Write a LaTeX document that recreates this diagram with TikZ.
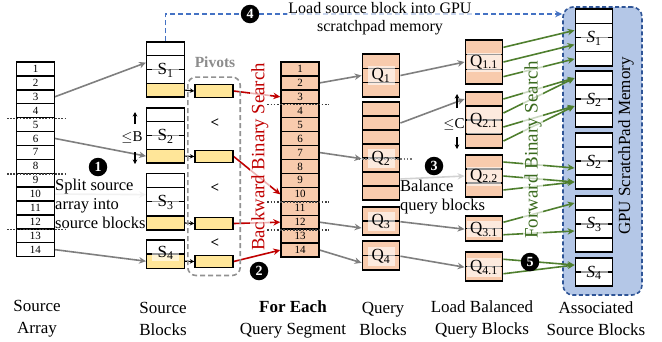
\documentclass[tikz,border=0pt]{standalone}
\usepackage{fontspec}
\setmainfont{Liberation Serif}
\usetikzlibrary{arrows.meta,calc,fit}
\definecolor{peach}{HTML}{F8CBAD}
\definecolor{syellow}{HTML}{FFE699}
\definecolor{memfill}{HTML}{B4C7E7}
\definecolor{memedge}{HTML}{2F5597}
\definecolor{lineblue}{HTML}{4472C4}
\definecolor{fgreen}{HTML}{4F7F2E}
\definecolor{fgreentext}{HTML}{3B6B1F}
\definecolor{bred}{HTML}{C00000}
\definecolor{agray}{HTML}{7F7F7F}
\pgfdeclarelayer{back}
\pgfdeclarelayer{arw}
\pgfdeclarelayer{veil}
\pgfsetlayers{back,arw,veil,main}
\newcommand\fsz[2]{\fontsize{#1}{#2}\selectfont}
\newcommand\mkblock[5]{%
  \foreach \ff [count=\kk] in {#5}{%
    \node[cellbox, fill=\ff, minimum height=#4pt] (#1r\kk) at (#2,{#3+#4*(\kk-0.5)}) {};}}
\newcommand\lessmark{\textbf{<}}
\newcommand\sub[2]{#1\textsubscript{#2}}
\begin{document}
\begin{tikzpicture}[x=1pt,y=-1pt,
  cellbox/.style={draw=black, line width=1.4pt, minimum width=37.5pt, inner sep=0pt, font=\fsz{11}{11}},
  lbl/.style={fill=white, fill opacity=0.6, text opacity=1, inner sep=1pt, minimum width=27pt, minimum height=19pt, font=\fsz{17}{17}},
  arr/.style={line width=1.6pt, -{Stealth[length=7pt,width=6.5pt]}},
  garr/.style={arr, draw=agray},
  lgarr/.style={arr, draw=agray!35},
  grn/.style={arr, draw=fgreen},
  rd/.style={arr, draw=bred},
  karr/.style={line width=1.1pt, -{Stealth[length=4.5pt,width=4.5pt]}},
  num/.style={circle, fill=black, text=white, inner sep=0pt, minimum size=18.5pt, font=\fsz{14}{14}\bfseries},
  veil/.style={fill=white, fill opacity=0.7, text opacity=1, inner sep=1pt},
  sepline/.style={draw=black!75, line width=1.6pt, dash pattern=on 1.6pt off 1.6pt},
  lab/.style={font=\fsz{17}{22}, align=center},
  body/.style={font=\fsz{16.5}{19}, align=left},
  ltmark/.style={font=\fsz{15}{15}}]
\useasboundingbox (0,0) rectangle (662,341);

% ---------- memory box ----------
\begin{pgfonlayer}{back}
\node[draw=memedge, fill=memfill, line width=1.6pt, dash pattern=on 4pt off 2.5pt,
      rounded corners=10pt, minimum width=79pt, minimum height=288pt, inner sep=0pt] (mem) at (602.5,151) {};
\end{pgfonlayer}
\node[rotate=90, font=\fsz{17}{17}] (memtxt) at (626,146) {GPU ScratchPad Memory};

% ---------- source array ----------
\foreach \i in {1,...,14}
  \node[cellbox, minimum height=13.9pt] (sa\i) at (35.5,{62+13.9*(\i-0.5)}) {\i};
\foreach \i in {4,8,12}
  \draw[sepline] ($(sa\i.south west)+(-9,0)$) -- ($(sa\i.south east)+(10,0)$);

% ---------- source blocks ----------
\mkblock{s1}{165.5}{42}{13.75}{white,white,white,syellow}
\mkblock{s2}{165.5}{108}{13.75}{white,white,white,syellow}
\mkblock{s3}{165.5}{173.3}{14.2}{white,white,white,syellow}
\mkblock{s4}{165.5}{240}{14.15}{white,syellow}
\node[lbl] (s1l) at (s1r2.south) {\sub{S}{1}};
\node[lbl] (s2l) at (s2r2.south) {\sub{S}{2}};
\node[lbl] (s3l) at (s3r2.south) {\sub{S}{3}};
\node[lbl, minimum height=16pt] (s4l) at ([yshift=2pt]s4r1.south) {\sub{S}{4}};

% <=B
\node[font=\fsz{15}{15}] (leB) at (132,138) {$\leq$B};
\coordinate (bu0) at (135,124); \coordinate (bu1) at (135,112);
\coordinate (bd0) at (135,152); \coordinate (bd1) at (135,164);
\draw[karr] (bu0) -- (bu1);
\draw[karr] (bd0) -- (bd1);

% ---------- pivots ----------
\foreach \y [count=\k] in {91,156.5,223.5,261.5}
  \node[cellbox, fill=syellow, minimum height=12.5pt, minimum width=38pt] (pv\k) at (214,\y) {};
\node[draw=agray!85, line width=1.6pt, dash pattern=on 5pt off 3pt, rounded corners=8pt,
      fit=(pv1)(pv4), inner xsep=6.5pt, inner ysep=7pt] (pvbox) {};
\node[text=agray!90, font=\fsz{15.5}{15.5}\bfseries] (pvtxt) at (215,62) {Pivots};
\node[ltmark] (lt1) at (215,123) {\lessmark};
\node[ltmark] (lt2) at (215,188) {\lessmark};
\node[ltmark] (lt3) at (215,243) {\lessmark};

% ---------- query segment ----------
\foreach \i in {1,...,14}
  \node[cellbox, fill=peach, minimum height=13.93pt, minimum width=38pt] (qs\i) at (300,{62+13.93*(\i-0.5)}) {\i};
\foreach \i in {3,10,12}
  \draw[sepline] ($(qs\i.south west)+(-13,0)$) -- ($(qs\i.south east)+(9,0)$);

% ---------- query blocks ----------
\mkblock{q1}{381}{54}{14.33}{peach,peach,peach}
\mkblock{q2}{381}{102}{14}{peach,peach,peach,peach,peach,peach,peach}
\mkblock{q3}{381}{207}{14}{peach,peach}
\mkblock{q4}{381}{241}{14.5}{peach,peach}
\draw[sepline, draw=black!55] ($(q2r4.south west)+(-6,0)$) -- ($(q2r4.south east)+(12,0)$);
\node[lbl] (q1l) at (q1r2) {\sub{Q}{1}};
\node[lbl] (q2l) at (q2r4.south) {\sub{Q}{2}};
\node[lbl] (q3l) at (q3r1.south) {\sub{Q}{3}};
\node[lbl] (q4l) at (q4r1.south) {\sub{Q}{4}};

% ---------- load balanced blocks ----------
\mkblock{b11}{484}{40}{14.67}{peach,peach,peach}
\mkblock{b21}{484}{92}{14}{peach,peach,peach,peach}
\mkblock{b22}{484}{155}{14}{peach,peach,peach}
\mkblock{b31}{484}{216}{12.5}{peach,peach}
\mkblock{b41}{484}{252}{14.5}{peach,peach}
\node[lbl, minimum width=34pt] (b11l) at (b11r2) {\sub{Q}{1.1}};
\node[lbl, minimum width=34pt, minimum height=27pt] (b21l) at (b21r2.south) {\sub{Q}{2.1}};
\node[lbl, minimum width=34pt] (b22l) at (b22r2) {\sub{Q}{2.2}};
\node[lbl, minimum width=34pt, minimum height=16pt] (b31l) at (b31r1.south) {\sub{Q}{3.1}};
\node[lbl, minimum width=34pt] (b41l) at (b41r1.south) {\sub{Q}{4.1}};

% <=C
\node[font=\fsz{15}{15}] (leC) at (454,125) {$\leq$C};
\coordinate (cu0) at (457,108); \coordinate (cu1) at (457,94);
\coordinate (cd0) at (457,137); \coordinate (cd1) at (457,149);
\draw[karr] (cu0) -- (cu1);
\draw[karr] (cd0) -- (cd1);

% ---------- memory blocks ----------
\mkblock{m1}{594}{9}{14.25}{white,white,white,white}
\mkblock{m2}{594}{71}{14}{white,white,white,white}
\mkblock{m3}{594}{133}{14}{white,white,white,white}
\mkblock{m4}{594}{196}{14}{white,white,white,white}
\mkblock{m5}{594}{258}{14}{white,white}
\node[lbl] (m1l) at (m1r2.south) {\sub{\textit{S}}{1}};
\node[lbl] (m2l) at (m2r2.south) {\sub{\textit{S}}{2}};
\node[lbl] (m3l) at (m3r2.south) {\sub{\textit{S}}{2}};
\node[lbl] (m4l) at (m4r2.south) {\sub{\textit{S}}{3}};
\node[lbl, minimum height=16pt] (m5l) at (m5r1.south) {\sub{\textit{S}}{4}};

% ---------- numbered circles ----------
\node[num] (c1) at (98,167) {1};
\node[num] (c2) at (259,271) {2};
\node[num] (c3) at (434,166) {3};
\node[num] (c4) at (250,14) {4};
\node[num] (c5) at (530,262) {5};

% ---------- connectors ----------
\begin{pgfonlayer}{arw}
\draw[garr] (sa3.east) -- (s1r2.west);
\draw[garr] (sa6.east) -- (s2r4.west);
\draw[lgarr] (sa10.east) -- (s3r2.west);
\draw[garr] (sa14.east) -- (s4r2.west);
\draw[karr] (s1r4.east) -- (pv1.west);
\draw[karr] (s2r4.east) -- (pv2.west);
\draw[karr] (s3r4.east) -- (pv3.west);
\draw[karr] (s4r2.east) -- (pv4.west);
\draw[rd] (pv1.east) -- (qs3.west);
\draw[rd] (pv2.east) -- (qs10.west);
\draw[rd] (pv3.east) -- (qs12.west);
\draw[rd] (pv4.east) -- (qs14.west);
\draw[garr] (qs2.east) -- (q1r2.west);
\draw[garr] (qs7.east) -- (q2r4.south west);
\draw[garr] (qs12.east) -- (q3r2.west);
\draw[garr] (qs14.east) -- (q4r2.west);
\draw[garr] (q1r2.east) -- (b11r2.west);
\draw[garr] (q2r2.east) -- (b21r1.west);
\draw[lgarr] (q2r6.east) -- (b22r2.west);
\draw[garr] (q3r1.south east) -- (b31r1.south west);
\draw[garr] (q4r1.south east) -- (b41r1.south west);
\draw[grn] (b11r1.east) -- (m1r2.west);
\draw[grn] (b11r2.east) -- (m1r3.west);
\draw[grn] (b11r3.east) -- (m1r4.west);
\draw[grn] (b21r1.east) -- (m2r1.west);
\draw[grn] (b21r2.east) -- (m2r1.west);
\draw[grn] (b21r3.east) -- (m2r3.west);
\draw[grn] (b21r4.east) -- (m2r3.west);
\draw[grn] (b22r1.east) -- (m3r3.west);
\draw[grn] (b22r2.east) -- (m3r4.west);
\draw[grn] (b22r3.east) -- (m3r4.west);
\draw[grn] (b31r1.east) -- (m4r1.west);
\draw[grn] (b31r2.east) -- (m4r3.west);
\draw[grn] (b41r1.east) -- (m5r1.west);
\draw[grn] (b41r2.east) -- (m5r1.west);
\draw[draw=lineblue, line width=1.5pt, dash pattern=on 5pt off 3pt] (s1r1.north) |- (c4);
\draw[draw=lineblue, line width=1.5pt, dash pattern=on 5pt off 3pt, -{Stealth[length=7pt,width=6.5pt]}] (c4) -- (c4 -| mem.west);
\end{pgfonlayer}

% ---------- texts over connectors ----------
\begin{pgfonlayer}{veil}
\node[veil, body, anchor=west] (split) at (54,204) {Split source\\array into\\source blocks};
\node[veil, body, anchor=west] (bal) at (399,197.5) {Balance\\query blocks};
\node[veil, rotate=90, text=bred, font=\fsz{18.8}{18.8}] (bbs) at (260,157) {Backward Binary Search};
\node[veil, rotate=90, text=fgreentext, font=\fsz{19}{19}] (fbs) at (533,150) {Forward Binary Search};
\node[veil, align=center, font=\fsz{16}{17.5}] (load) at (380,18.5) {Load source block into GPU\\scratchpad memory};
\end{pgfonlayer}

% ---------- bottom labels ----------
\node[lab] (lsa) at (37,319) {Source\\Array};
\node[lab] (lsb) at (163,319) {Source\\Blocks};
\node[lab] (lqs) at (293,319) {\textbf{For Each}\\Query Segment};
\node[lab] (lqb) at (383,319) {Query\\Blocks};
\node[lab] (llb) at (482,319) {Load Balanced\\Query Blocks};
\node[lab] (las) at (596,319) {Associated\\Source Blocks};
\end{tikzpicture}
\end{document}
